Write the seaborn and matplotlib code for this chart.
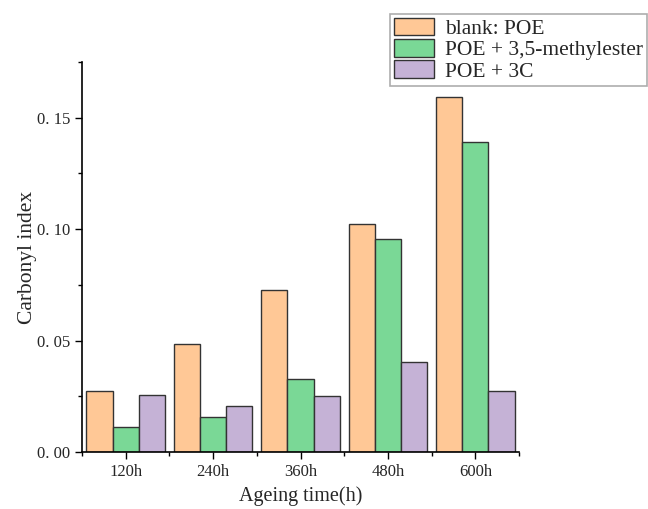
import pandas as pd
import matplotlib.pyplot as plt
import seaborn as sns
from matplotlib.ticker import MultipleLocator, FixedLocator

# Data
times = ["120h", "240h", "360h", "480h", "600h"]
groups = ["blank: POE", "POE + 3,5-methylester", "POE + 3C"]
blank_poe = [0.0274, 0.0486, 0.0727, 0.1024, 0.1595]
poe_methylester = [0.0114, 0.0156, 0.0328, 0.0954, 0.1391]
poe_3c = [0.0256, 0.0207, 0.0253, 0.0403, 0.0275]
colors = ["#FFC896", "#7AD896", "#C5B2D6"]

df = pd.DataFrame({
    "time": times * 3,
    "value": blank_poe + poe_methylester + poe_3c,
    "group": [g for g in groups for _ in times],
})

sns.set_style("white")
plt.rcParams["font.family"] = ["Liberation Serif", "DejaVu Serif"]

fig = plt.figure(figsize=(6.48, 5.09), dpi=100)
ax = fig.add_axes([0.1265, 0.112, 0.6745, 0.766])

sns.barplot(data=df, x="time", y="value", hue="group", palette=colors,
            saturation=1, width=0.9, edgecolor="#333333", linewidth=1.0, ax=ax)

ax.set_xlim(-0.5, 4.5)
ax.set_ylim(0, 0.175)
ax.yaxis.set_major_locator(MultipleLocator(0.05))
ax.yaxis.set_minor_locator(MultipleLocator(0.025))
ax.xaxis.set_minor_locator(FixedLocator([-0.5, 0.5, 1.5, 2.5, 3.5, 4.5]))
ax.set_yticks([0, 0.05, 0.10, 0.15])
ax.set_yticklabels(["0. 00", "0. 05", "0. 10", "0. 15"])
ax.tick_params(axis="both", which="major", direction="out", length=5, width=1,
               labelsize=12, bottom=True, left=True, color="black")
ax.tick_params(axis="both", which="minor", direction="out", length=3, width=1,
               bottom=True, left=True, color="black")

for side in ["top", "right"]:
    ax.spines[side].set_visible(False)
for side in ["left", "bottom"]:
    ax.spines[side].set_color("black")
    ax.spines[side].set_linewidth(1.2)

ax.set_xlabel("Ageing time(h)", fontsize=14.5, labelpad=5)
ax.set_ylabel("Carbonyl index", fontsize=15.5, labelpad=0)

handles, labels = ax.get_legend_handles_labels()
ax.legend(handles, labels, loc="upper right", bbox_to_anchor=(0.999, 0.973),
          bbox_transform=fig.transFigure, fontsize=15.5, frameon=True,
          fancybox=False, edgecolor="#999999", handlelength=1.85,
          handleheight=0.9, labelspacing=0.0, borderpad=0.18,
          handletextpad=0.55, borderaxespad=0)
ax.get_legend().get_frame().set_linewidth(1.2)

fig.savefig("out.png", dpi=100)
